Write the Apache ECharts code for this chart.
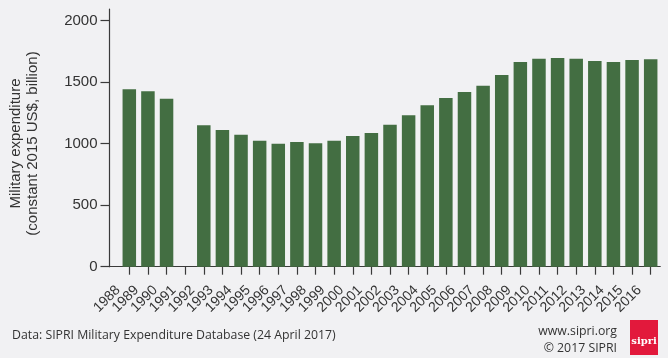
<!DOCTYPE html>
<html>
<head>
<meta charset="utf-8">
<script src="https://cdn.jsdelivr.net/npm/echarts@6/dist/echarts.min.js"></script>
<style>
html,body{margin:0;padding:0;background:#f1f1f3;}
#c{width:668px;height:358px;}
</style>
</head>
<body>
<div id="c"></div>
<script>
const years = ['1988','1989','1990','1991','1992','1993','1994','1995','1996','1997','1998','1999','2000','2001','2002','2003','2004','2005','2006','2007','2008','2009','2010','2011','2012','2013','2014','2015','2016'];
const spending = [1442,1426,1366,null,1150,1111,1073,1024,1000,1014,1003,1024,1063,1087,1155,1231,1312,1372,1420,1472,1559,1664,1691,1697,1691,1672,1664,1680,1686];
const yTicks = [0,500,1000,1500,2000];
const yTitle = 'Military expenditure\n(constant 2015 US$, billion)';
const sourceText = 'Data: SIPRI Military Expenditure Database (24 April 2017)';
const siteText = 'www.sipri.org';
const copyText = '\u00a9 2017 SIPRI';

const chart = echarts.init(document.getElementById('c'), null, {renderer:'canvas'});
const axisColor = '#3a3a3a';
chart.setOption({
  backgroundColor: '#f1f1f3',
  animation: false,
  grid: [
    {left: 120, right: 8, top: 9, bottom: 91.3, containLabel: false},
    {left: 109.5, right: 8, top: 9, bottom: 91.3, containLabel: false}
  ],
  xAxis: [{
    type: 'category',
    gridIndex: 0,
    data: years,
    boundaryGap: true,
    axisLine: {show: true, lineStyle: {color: axisColor, width: 1.2}},
    axisTick: {show: true, alignWithLabel: true, interval: 0, length: 8, lineStyle: {color: axisColor, width: 1.2}},
    axisLabel: {
      interval: 0,
      rotate: 45,
      margin: 10,
      padding: [0, 16, 0, 0],
      fontFamily: 'Liberation Sans',
      fontSize: 14,
      color: '#333'
    }
  }, {
    type: 'value',
    gridIndex: 1,
    min: 0,
    max: 1,
    axisLine: {show: true, lineStyle: {color: axisColor, width: 1.2}},
    axisTick: {show: false},
    axisLabel: {show: false},
    splitLine: {show: false}
  }],
  yAxis: [{
    type: 'value',
    gridIndex: 0,
    min: 0,
    max: 2095,
    offset: 10.5,
    splitLine: {show: false},
    axisLine: {show: true, lineStyle: {color: axisColor, width: 1.2}},
    axisTick: {show: true, length: 9, lineStyle: {color: axisColor, width: 1.2}, customValues: yTicks},
    axisLabel: {
      customValues: yTicks,
      showMinLabel: true,
      margin: 12,
      fontFamily: 'Liberation Sans',
      fontSize: 15,
      color: '#333',
      formatter: v => String(v)
    }
  }, {
    type: 'value',
    gridIndex: 1,
    show: false
  }],
  series: [{
    type: 'bar',
    xAxisIndex: 0,
    yAxisIndex: 0,
    barWidth: 13.5,
    itemStyle: {color: '#436e42'},
    data: spending
  }],
  graphic: [
    {type: 'text', x: 24.5, y: 143.5, rotation: Math.PI / 2,
     style: {text: yTitle, fontFamily: 'Liberation Sans', fontSize: 15, lineHeight: 17, fill: '#333', align: 'center', verticalAlign: 'middle'}},
    {type: 'text', left: 12, top: 329, style: {text: sourceText, fontFamily: 'Open Sans', fontSize: 12.3, fill: '#333'}},
    {type: 'text', right: 51, top: 325, style: {text: siteText, fontFamily: 'Open Sans', fontSize: 12.3, fill: '#333', align: 'right'}},
    {type: 'text', right: 51, top: 342, style: {text: copyText, fontFamily: 'Open Sans', fontSize: 12.3, fill: '#333', align: 'right'}},
    {type: 'rect', left: 630, top: 320, shape: {width: 28, height: 35}, style: {fill: '#e2193c'}},
    {type: 'text', x: 644, y: 341, style: {text: 'sipri', fontFamily: 'DejaVu Serif', fontWeight: 'bold', fontSize: 10, fill: '#fff', align: 'center', verticalAlign: 'middle'}}
  ]
});
</script>
</body>
</html>
